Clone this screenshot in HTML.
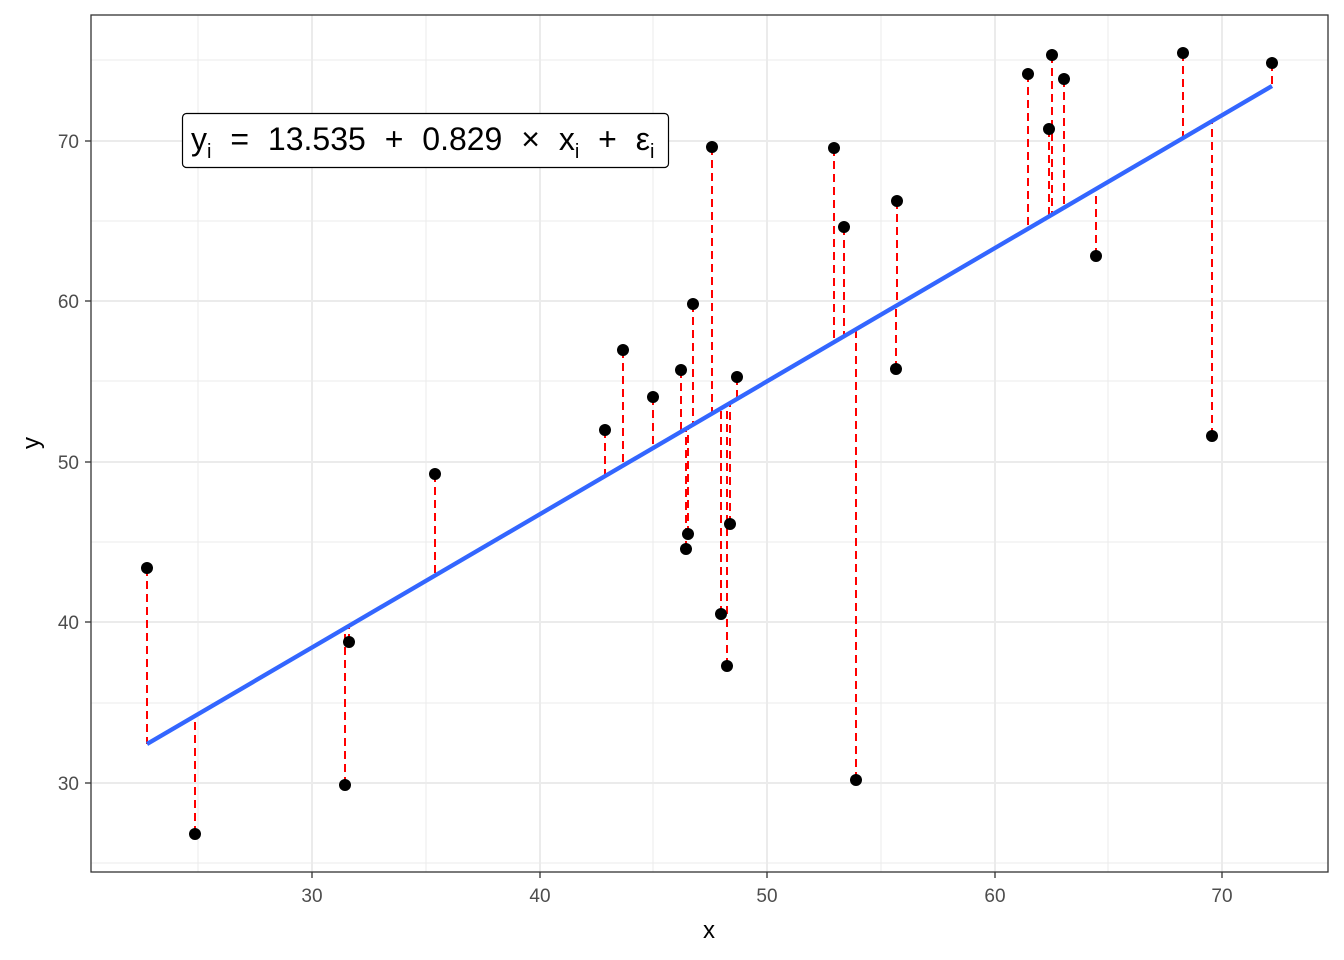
<!DOCTYPE html>
<html><head><meta charset="utf-8"><style>body{margin:0;background:#fff}svg{display:block}</style></head><body>
<svg width="1344" height="960" xmlns="http://www.w3.org/2000/svg" font-family="Liberation Sans, sans-serif">
<rect x="0" y="0" width="1344" height="960" fill="#fff"/>
<g stroke="#ebebeb" stroke-width="1">
<line x1="198" y1="15" x2="198" y2="872"/><line x1="426" y1="15" x2="426" y2="872"/><line x1="653" y1="15" x2="653" y2="872"/><line x1="881" y1="15" x2="881" y2="872"/><line x1="1108" y1="15" x2="1108" y2="872"/>
<line x1="91" y1="863" x2="1328" y2="863"/><line x1="91" y1="703" x2="1328" y2="703"/><line x1="91" y1="542" x2="1328" y2="542"/><line x1="91" y1="381" x2="1328" y2="381"/><line x1="91" y1="221" x2="1328" y2="221"/><line x1="91" y1="60" x2="1328" y2="60"/>
</g>
<g stroke="#ebebeb" stroke-width="2">
<line x1="312" y1="15" x2="312" y2="872"/><line x1="540" y1="15" x2="540" y2="872"/><line x1="767" y1="15" x2="767" y2="872"/><line x1="995" y1="15" x2="995" y2="872"/><line x1="1222" y1="15" x2="1222" y2="872"/>
<line x1="91" y1="783" x2="1328" y2="783"/><line x1="91" y1="622" x2="1328" y2="622"/><line x1="91" y1="462" x2="1328" y2="462"/><line x1="91" y1="301" x2="1328" y2="301"/><line x1="91" y1="141" x2="1328" y2="141"/>
</g>
<g stroke="#ff0000" stroke-width="2" stroke-dasharray="8,5">
<line x1="147" y1="568" x2="147" y2="744"/><line x1="195" y1="834" x2="195" y2="716"/><line x1="345" y1="785" x2="345" y2="628"/><line x1="349" y1="642" x2="349" y2="626"/><line x1="435" y1="474" x2="435" y2="575"/><line x1="605" y1="430" x2="605" y2="476"/><line x1="623" y1="350" x2="623" y2="466"/><line x1="653" y1="397" x2="653" y2="448"/><line x1="681" y1="370" x2="681" y2="432"/><line x1="686" y1="549" x2="686" y2="429"/><line x1="688" y1="534" x2="688" y2="428"/><line x1="693" y1="304" x2="693" y2="425"/><line x1="712" y1="147" x2="712" y2="414"/><line x1="721" y1="614" x2="721" y2="409"/><line x1="727" y1="666" x2="727" y2="405"/><line x1="730" y1="524" x2="730" y2="403"/><line x1="737" y1="377" x2="737" y2="399"/><line x1="834" y1="148" x2="834" y2="341"/><line x1="844" y1="227" x2="844" y2="335"/><line x1="856" y1="780" x2="856" y2="329"/><line x1="896" y1="369" x2="896" y2="306"/><line x1="897" y1="201" x2="897" y2="305"/><line x1="1028" y1="74" x2="1028" y2="229"/><line x1="1049" y1="129" x2="1049" y2="216"/><line x1="1052" y1="55" x2="1052" y2="215"/><line x1="1064" y1="79" x2="1064" y2="208"/><line x1="1096" y1="256" x2="1096" y2="189"/><line x1="1183" y1="53" x2="1183" y2="138"/><line x1="1212" y1="436" x2="1212" y2="121"/><line x1="1272" y1="63" x2="1272" y2="86"/>
</g>
<line x1="147" y1="744" x2="1272" y2="86" stroke="#3366ff" stroke-width="4.3"/>
<g fill="#000">
<circle cx="147" cy="568" r="6"/><circle cx="195" cy="834" r="6"/><circle cx="345" cy="785" r="6"/><circle cx="349" cy="642" r="6"/><circle cx="435" cy="474" r="6"/><circle cx="605" cy="430" r="6"/><circle cx="623" cy="350" r="6"/><circle cx="653" cy="397" r="6"/><circle cx="681" cy="370" r="6"/><circle cx="686" cy="549" r="6"/><circle cx="688" cy="534" r="6"/><circle cx="693" cy="304" r="6"/><circle cx="712" cy="147" r="6"/><circle cx="721" cy="614" r="6"/><circle cx="727" cy="666" r="6"/><circle cx="730" cy="524" r="6"/><circle cx="737" cy="377" r="6"/><circle cx="834" cy="148" r="6"/><circle cx="844" cy="227" r="6"/><circle cx="856" cy="780" r="6"/><circle cx="896" cy="369" r="6"/><circle cx="897" cy="201" r="6"/><circle cx="1028" cy="74" r="6"/><circle cx="1049" cy="129" r="6"/><circle cx="1052" cy="55" r="6"/><circle cx="1064" cy="79" r="6"/><circle cx="1096" cy="256" r="6"/><circle cx="1183" cy="53" r="6"/><circle cx="1212" cy="436" r="6"/><circle cx="1272" cy="63" r="6"/>
</g>
<rect x="182.5" y="113.5" width="486" height="54" rx="4" fill="#fff" stroke="#000" stroke-width="1.2"/>
<text x="191" y="150" font-size="32" fill="#000" style="word-spacing:10px">y<tspan font-size="20" dy="8">i</tspan><tspan dy="-8"> = 13.535 + 0.829 × x</tspan><tspan font-size="20" dy="8">i</tspan><tspan dy="-8"> + ε</tspan><tspan font-size="20" dy="8">i</tspan></text>
<rect x="91" y="15" width="1237" height="857" fill="none" stroke="#333" stroke-width="1.3"/>
<g stroke="#333" stroke-width="1.3">
<line x1="312" y1="872" x2="312" y2="878"/><line x1="540" y1="872" x2="540" y2="878"/><line x1="767" y1="872" x2="767" y2="878"/><line x1="995" y1="872" x2="995" y2="878"/><line x1="1222" y1="872" x2="1222" y2="878"/>
<line x1="85" y1="783" x2="91" y2="783"/><line x1="85" y1="622" x2="91" y2="622"/><line x1="85" y1="462" x2="91" y2="462"/><line x1="85" y1="301" x2="91" y2="301"/><line x1="85" y1="141" x2="91" y2="141"/>
</g>
<g font-size="19" fill="#4d4d4d" text-anchor="middle">
<text x="312" y="902">30</text><text x="540" y="902">40</text><text x="767" y="902">50</text><text x="995" y="902">60</text><text x="1222" y="902">70</text>
</g>
<g font-size="19" fill="#4d4d4d" text-anchor="end">
<text x="79" y="790">30</text><text x="79" y="629">40</text><text x="79" y="469">50</text><text x="79" y="308">60</text><text x="79" y="148">70</text>
</g>
<text x="709" y="938" font-size="24" text-anchor="middle" fill="#000">x</text>
<text transform="translate(39,443) rotate(-90)" font-size="24" text-anchor="middle" fill="#000">y</text>
</svg>
</body></html>
